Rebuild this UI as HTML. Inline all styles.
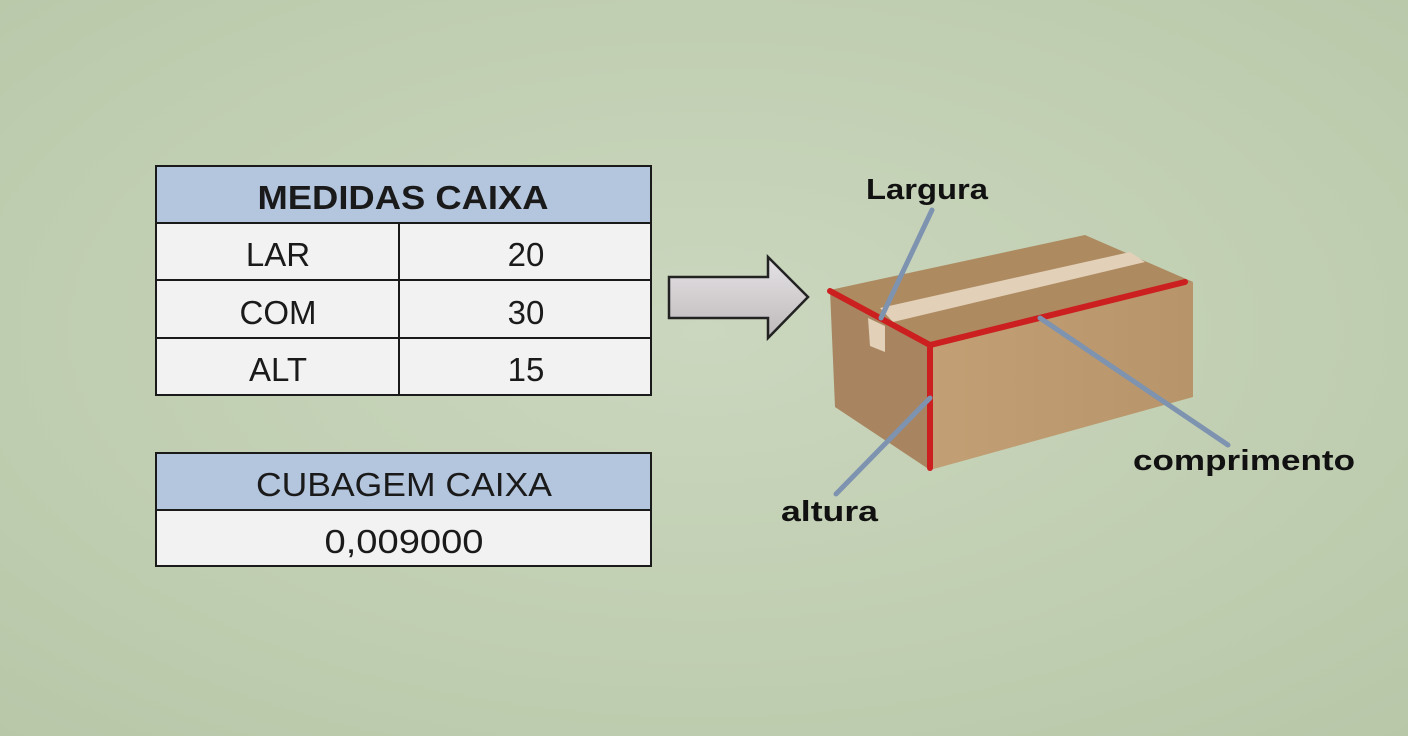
<!DOCTYPE html>
<html><head><meta charset="utf-8"><style>
html,body{margin:0;padding:0;width:1408px;height:736px;overflow:hidden}
</style></head><body>
<svg width="1408" height="736" viewBox="0 0 1408 736" xmlns="http://www.w3.org/2000/svg" font-family="'Liberation Sans', 'DejaVu Sans', sans-serif">
<defs>
<radialGradient id="bg" cx="50%" cy="45%" r="75%">
<stop offset="0" stop-color="#cbd7be"/><stop offset="1" stop-color="#b8c7a8"/>
</radialGradient>
<linearGradient id="ar" x1="0" y1="0" x2="0" y2="1">
<stop offset="0" stop-color="#e6e3e6"/><stop offset="1" stop-color="#bdb9bb"/>
</linearGradient>
<linearGradient id="rf" x1="0" y1="0" x2="1" y2="0">
<stop offset="0" stop-color="#c29f74"/><stop offset="1" stop-color="#b8946a"/>
</linearGradient>
</defs>
<rect width="1408" height="736" fill="url(#bg)"/>

<g stroke="#1a1a1a" stroke-width="2">
<rect x="156" y="166" width="495" height="57" fill="#b4c5de"/>
<rect x="156" y="223" width="495" height="172" fill="#f2f2f2"/>
<line x1="156" y1="280" x2="651" y2="280"/>
<line x1="156" y1="338" x2="651" y2="338"/>
<line x1="399" y1="223" x2="399" y2="395"/>
<rect x="156" y="453" width="495" height="57" fill="#b4c5de"/>
<rect x="156" y="510" width="495" height="56" fill="#f2f2f2"/>
</g>
<g fill="#1a1a1a" font-size="33" text-anchor="middle" lengthAdjust="spacingAndGlyphs">
<text x="403" y="209" font-weight="bold" textLength="291" lengthAdjust="spacingAndGlyphs">MEDIDAS CAIXA</text>
<text x="278" y="266">LAR</text><text x="526" y="266">20</text>
<text x="278" y="324">COM</text><text x="526" y="324">30</text>
<text x="278" y="381">ALT</text><text x="526" y="381">15</text>
<text x="404" y="496" textLength="296" lengthAdjust="spacingAndGlyphs">CUBAGEM CAIXA</text>
<text x="404" y="553" textLength="159" lengthAdjust="spacingAndGlyphs">0,009000</text>
</g>

<path d="M669,277 H768 V257 L808,297 L768,338 V318 H669 Z" fill="url(#ar)" stroke="#222" stroke-width="2.5"/>

<polygon points="830,290 1085,235 1193,282 930,345" fill="#ad8a60"/>
<polygon points="830,290 930,345 930,470 835,407" fill="#a88460"/>
<polygon points="930,345 1193,282 1193,397 930,470" fill="url(#rf)"/>
<polygon points="880,308 1130,252 1145,262 893,322" fill="#e2d0b8"/>
<polygon points="868,318 885,326 885,352 870,346" fill="#e2d0b8"/>
<g stroke="#cc1f1f" stroke-width="6" stroke-linecap="round" fill="none">
<polyline points="830,291 930,345 1185,282"/>
<line x1="930" y1="345" x2="930" y2="468"/>
</g>
<g stroke="#7d93b0" stroke-width="5" stroke-linecap="round">
<line x1="932" y1="210" x2="881" y2="318"/>
<line x1="1040" y1="318" x2="1228" y2="445"/>
<line x1="930" y1="398" x2="836" y2="494"/>
</g>
<g fill="#111" font-size="29" font-weight="bold">
<text x="866" y="199" textLength="122" lengthAdjust="spacingAndGlyphs">Largura</text>
<text x="1133" y="470" textLength="222" lengthAdjust="spacingAndGlyphs">comprimento</text>
<text x="781" y="521" textLength="97" lengthAdjust="spacingAndGlyphs">altura</text>
</g>
</svg>
</body></html>
